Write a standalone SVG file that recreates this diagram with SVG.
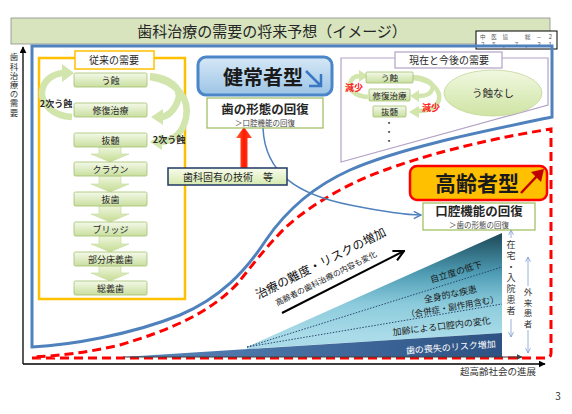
<svg xmlns="http://www.w3.org/2000/svg" width="572" height="414" viewBox="0 0 572 414">
<style>
text{font-family:"Noto Sans CJK JP","Noto Sans",sans-serif;fill:#262626}
.gb{fill:url(#gGreen);stroke:#a3bf6f;stroke-width:0.8}
.t9{font-size:9px;text-anchor:middle}
.t10{font-size:10px;text-anchor:middle}
.b{font-weight:700}
.cur{fill:none;stroke:#d2e5ad;stroke-width:6.5}
.curh{fill:#d2e5ad}
.blk{fill:url(#gArr);stroke:#c4d99a;stroke-width:0.6}
.red{fill:#ff2020;font-weight:700;font-size:9px;text-anchor:middle}
.vt{font-size:9px;fill:#333;writing-mode:vertical-rl}
.wt{font-size:9px;text-anchor:middle;fill:#1a1a1a}
</style>
<defs>
<linearGradient id="gGreen" x1="0" y1="0" x2="0" y2="1"><stop offset="0" stop-color="#f4f9e9"/><stop offset="1" stop-color="#c9df9f"/></linearGradient>
<linearGradient id="gArr" x1="0" y1="0" x2="0" y2="1"><stop offset="0" stop-color="#eef6dc"/><stop offset="1" stop-color="#c5dc93"/></linearGradient>
<linearGradient id="gBtn" x1="0" y1="0" x2="0" y2="1"><stop offset="0" stop-color="#f8fcec"/><stop offset="1" stop-color="#d6e9ae"/></linearGradient>
<linearGradient id="gBlue" x1="0" y1="0" x2="0" y2="1"><stop offset="0" stop-color="#d6e8f6"/><stop offset="1" stop-color="#9cc4e6"/></linearGradient>
<linearGradient id="gEll" x1="0" y1="0" x2="0" y2="1"><stop offset="0" stop-color="#f1f8e1"/><stop offset="1" stop-color="#cfe4a3"/></linearGradient>
<linearGradient id="gRed" x1="0" y1="0" x2="1" y2="0"><stop offset="0" stop-color="#ff6a3a"/><stop offset="0.5" stop-color="#ff1a00"/><stop offset="1" stop-color="#ff5030"/></linearGradient>
<linearGradient id="gTri" gradientUnits="userSpaceOnUse" x1="0" y1="233" x2="0" y2="335"><stop offset="0" stop-color="#1b4757"/><stop offset="0.4" stop-color="#4f9db5"/><stop offset="0.7" stop-color="#8ccbdc"/><stop offset="1" stop-color="#a9dbe8"/></linearGradient>
<linearGradient id="gBand" x1="0" y1="0" x2="1" y2="0"><stop offset="0" stop-color="#5a86ba"/><stop offset="1" stop-color="#2d5283"/></linearGradient>
<marker id="mAx" viewBox="0 0 10 10" refX="9" refY="5" markerWidth="7" markerHeight="7" markerUnits="userSpaceOnUse" orient="auto"><path d="M0,0 L10,5 L0,10 z" fill="#000"/></marker>
<marker id="mGray" viewBox="0 0 10 10" refX="9" refY="5" markerWidth="6" markerHeight="6" markerUnits="userSpaceOnUse" orient="auto"><path d="M0,0 L10,5 L0,10 z" fill="#404040"/></marker>
<marker id="mBlue" viewBox="0 0 10 10" refX="9" refY="5" markerWidth="9" markerHeight="9" markerUnits="userSpaceOnUse" orient="auto"><path d="M1,1 L9,5 L1,9" fill="none" stroke="#4f81bd" stroke-width="1.6"/></marker>
<marker id="mBlk" viewBox="0 0 10 10" refX="9" refY="5" markerWidth="13" markerHeight="13" markerUnits="userSpaceOnUse" orient="auto"><path d="M1,1 L9,5 L1,9" fill="none" stroke="#000" stroke-width="1.6"/></marker>
<marker id="mLb" viewBox="0 0 10 10" refX="9" refY="5" markerWidth="6" markerHeight="6" markerUnits="userSpaceOnUse" orient="auto"><path d="M1,1 L9,5 L1,9" fill="none" stroke="#7f9fcf" stroke-width="1.4"/></marker>
</defs>
<rect width="572" height="414" fill="#fff"/>

<!-- title -->
<g id="title">
<rect x="11" y="18" width="539" height="26" fill="#d7e4bd" stroke="#8c8c8c" stroke-width="0.8"/>
<text x="272" y="37" style="font-size:15px;text-anchor:middle">歯科治療の需要の将来予想（イメージ）</text>
</g>
<g id="docbox">
<rect x="476" y="31" width="81" height="18" fill="#fff" stroke="#000" stroke-width="1"/>
<text x="480" y="38.5" style="font-size:5.5px;fill:#555" textLength="73" lengthAdjust="spacing">中医協　総－２</text>
<text x="480" y="46.5" style="font-size:5.5px;fill:#555" textLength="73" lengthAdjust="spacing">２５．７．３１</text>
</g>

<!-- regions -->
<g id="regions">
<path d="M32,46 L552,46 L552,117 C480,132 400,148 350,170 C310,188 285,212 266,240 C245,272 220,298 180,315 C130,335 70,345 32,347 Z" fill="none" stroke="#4f81bd" stroke-width="3"/>
<path d="M32,358 L546,358 Q551,358 551,353 L551,129 C480,140 420,157 385,170 C350,182 310,205 285,228 C265,248 250,268 238,283 C210,313 170,330 120,345 C90,352 60,356 32,357" fill="none" stroke="#ff0000" stroke-width="3" stroke-dasharray="9 5"/>
</g>

<!-- wedge -->
<g id="wedge">
<path d="M247,347 L502,233 L502,333 L247,349 Z" fill="url(#gTri)"/>
<path d="M123,357 L502,333 L502,357 Z" fill="url(#gBand)"/>
<path d="M247,347 L502,267 M247,347 L502,304" stroke="#1f3864" stroke-width="0.9" stroke-dasharray="1.5 1.5" fill="none"/>
<text class="wt" transform="translate(457,275) rotate(-17)">自立度の低下</text>
<text class="wt" transform="translate(451,297.5) rotate(-12)">全身的な疾患</text>
<text class="wt" style="font-size:8.5px" transform="translate(453,310) rotate(-10)">（合併症・副作用含む）</text>
<text class="wt" transform="translate(442,329.5) rotate(-7)">加齢による口腔内の変化</text>
<text class="wt" style="fill:#fff" transform="translate(451,350.5) rotate(-4.5)">歯の喪失のリスク増加</text>
</g>

<!-- axes -->
<g id="axes">
<path d="M23,364 L23,47" stroke="#000" stroke-width="1.3" marker-end="url(#mAx)"/>
<path d="M23,364 L545,364" stroke="#000" stroke-width="1.3" marker-end="url(#mAx)"/>
<path d="M123,357 L522,357" stroke="#404040" stroke-width="1.2" marker-end="url(#mGray)"/>
<text x="14" y="53" style="font-size:8.5px;fill:#333;writing-mode:vertical-rl;letter-spacing:0.7px">歯科治療の需要</text>
<text x="498" y="375" style="font-size:9.5px;text-anchor:middle;fill:#333">超高齢社会の進展</text>
</g>

<!-- left box: conventional demand -->
<g id="conventional">
<rect x="39" y="58" width="146" height="241" fill="none" stroke="#ffc000" stroke-width="2.5"/>
<rect x="75" y="51" width="79" height="18" fill="#fff" stroke="#ffc000" stroke-width="1.5"/>
<text class="t10" x="114" y="64">従来の需要</text>
</g>
<g id="flow">
<path class="blk" d="M99,147 L121,147 L121,154 L129,154 L110,162 L91,154 L99,154 Z"/>
<path class="blk" d="M99,176 L121,176 L121,184 L129,184 L110,192 L91,184 L99,184 Z"/>
<path class="blk" d="M99,206 L121,206 L121,214 L129,214 L110,222 L91,214 L99,214 Z"/>
<path class="blk" d="M99,236 L121,236 L121,244 L129,244 L110,252 L91,244 L99,244 Z"/>
<path class="blk" d="M99,266 L121,266 L121,273 L129,273 L110,281 L91,273 L99,273 Z"/>
<path class="cur" d="M72,117 C52,116 41,103 42,92 C43,80 53,74 63,73"/>
<polygon class="curh" points="74,73 62,64 62,82"/>
<path class="cur" d="M150,76 C170,78 182,88 178,100 C175,110 168,116 162,117"/>
<polygon class="curh" points="151,117 163,109 163,125"/>
<path class="cur" d="M150,77 C178,81 190,100 186,118 C183,132 175,140 162,142"/>
<polygon class="curh" points="150,142 162,134 162,150"/>
</g>
<g id="n-ushoku"><rect class="gb" x="74" y="73" width="73" height="14" rx="1.5"/><text class="t9" x="110.5" y="83.5">う蝕</text></g>
<g id="n-shufuku"><rect class="gb" x="74" y="103" width="73" height="14" rx="1.5"/><text class="t9" x="110.5" y="113.5">修復治療</text></g>
<g id="n-bacchu"><rect class="gb" x="74" y="133" width="73" height="14" rx="1.5"/><text class="t9" x="110.5" y="143.5">抜髄</text></g>
<g id="n-crown"><rect class="gb" x="74" y="162" width="73" height="14" rx="1.5"/><text class="t9" x="110.5" y="172.5">クラウン</text></g>
<g id="n-basshi"><rect class="gb" x="74" y="192" width="73" height="14" rx="1.5"/><text class="t9" x="110.5" y="202.5">抜歯</text></g>
<g id="n-bridge"><rect class="gb" x="74" y="222" width="73" height="14" rx="1.5"/><text class="t9" x="110.5" y="232.5">ブリッジ</text></g>
<g id="n-bubun"><rect class="gb" x="74" y="252" width="73" height="14" rx="1.5"/><text class="t9" x="110.5" y="262.5">部分床義歯</text></g>
<g id="n-sougishi"><rect class="gb" x="74" y="281" width="73" height="14" rx="1.5"/><text class="t9" x="110.5" y="291.5">総義歯</text></g>
<text class="t9 b" x="56" y="107">2次う蝕</text>
<text class="t9 b" x="169" y="143">2次う蝕</text>

<!-- connectors -->
<g id="connectors">
<path d="M263,128 C265,175 300,195 350,205 C385,212 405,215 421,215" fill="none" stroke="#4f81bd" stroke-width="1.5" marker-end="url(#mBlue)"/>
<path d="M240.5,168 L240.5,138 L236,138 L244,127 L252,138 L247.5,138 L247.5,168 Z" fill="url(#gRed)"/>
<path d="M282,313 L404,251" stroke="#000" stroke-width="2" marker-end="url(#mBlk)"/>
<path d="M511,238 L511,230" stroke="#7f9fcf" stroke-width="0.8" marker-end="url(#mLb)"/>
<path d="M511,319 L511,337" stroke="#7f9fcf" stroke-width="0.8" marker-end="url(#mLb)"/>
<path d="M528,286 L528,257" stroke="#7f9fcf" stroke-width="0.8" marker-end="url(#mLb)"/>
<path d="M528,330 L528,353" stroke="#7f9fcf" stroke-width="0.8" marker-end="url(#mLb)"/>
</g>

<!-- healthy type -->
<g id="healthy">
<rect x="198" y="57" width="134" height="38" rx="8" fill="url(#gBlue)" stroke="#4a86c8" stroke-width="3"/>
<text x="263" y="85" style="font-size:20px;font-weight:700;text-anchor:middle;fill:#1a1a1a">健常者型</text>
<path d="M306,71 L321,86 M321,74 L321,86 L309,86" fill="none" stroke="#3a78c3" stroke-width="2.5"/>
</g>
<g id="form-recovery">
<rect x="207" y="98" width="116" height="30" fill="#fff" stroke="#9bbb59" stroke-width="1.2"/>
<text x="265" y="114" style="font-size:12.5px;font-weight:700;text-anchor:middle">歯の形態の回復</text>
<text x="265" y="125.5" style="font-size:7.5px;text-anchor:middle;fill:#444">＞口腔機能の回復</text>
</g>
<g id="tech">
<rect x="168" y="168" width="119" height="17" fill="url(#gBtn)" stroke="#1f3864" stroke-width="1.5"/>
<text x="228" y="180.5" style="font-size:10px;text-anchor:middle">歯科固有の技術　等</text>
</g>

<!-- present and future -->
<g id="present">
<polygon points="341,58 548,58 548,105 341,162" fill="none" stroke="#b3a2c7" stroke-width="1.2"/>
<rect x="395" y="52" width="107" height="16" fill="#fff" stroke="#b3a2c7" stroke-width="1.2"/>
<text class="t10" x="449" y="64">現在と今後の需要</text>
<path class="cur" style="stroke-width:4.5" d="M368,97 C355,96 349,90 350,84 C351,78 355,76 360,76"/>
<polygon class="curh" points="368,76 359,70 359,82"/>
<path class="cur" style="stroke-width:4.5" d="M413,77 C428,78 435,84 432,90 C430,95 425,96 419,96"/>
<polygon class="curh" points="410,96 419,90 419,102"/>
<path class="cur" style="stroke-width:4.5" d="M413,78 C437,81 443,95 437,104 C433,109 427,111 419,111"/>
<polygon class="curh" points="409,112 419,106 419,118"/>
<g id="p-ushoku"><rect class="gb" x="366" y="72" width="47" height="11" rx="1"/><text x="389.5" y="81" style="font-size:8.5px;text-anchor:middle">う蝕</text></g>
<g id="p-shufuku"><rect class="gb" x="369" y="89" width="41" height="12" rx="1"/><text x="389.5" y="98.5" style="font-size:8.5px;text-anchor:middle">修復治療</text></g>
<g id="p-bacchu"><rect class="gb" x="373" y="106" width="33" height="11" rx="1"/><text x="389.5" y="115" style="font-size:8.5px;text-anchor:middle">抜髄</text></g>
<text class="red" x="354" y="91">減少</text>
<text class="red" x="431" y="111">減少</text>
<text style="font-size:7px;text-anchor:middle;font-weight:700"><tspan x="389" y="124.5">・</tspan><tspan x="389" y="133.5">・</tspan><tspan x="389" y="142.5">・</tspan></text>
</g>
<g id="no-caries">
<ellipse cx="493" cy="93" rx="49" ry="23" fill="url(#gEll)" stroke="#c3d69b" stroke-width="0.8"/>
<text x="493" y="97" style="font-size:10.5px;text-anchor:middle">う蝕なし</text>
</g>

<!-- elderly type -->
<g id="elderly">
<rect x="410" y="166" width="137" height="34" rx="7" fill="#ffc000" stroke="#ff0000" stroke-width="2.5"/>
<text x="477" y="191" style="font-size:21px;font-weight:700;text-anchor:middle;fill:#1a1a1a">高齢者型</text>
<path d="M521,193 L537,176" stroke="#c00000" stroke-width="2.5"/>
<polygon points="544,169 531,172 541,182" fill="#c00000"/>
</g>
<g id="oral-recovery">
<rect x="423" y="203" width="112" height="27" fill="#fff" stroke="#9bbb59" stroke-width="1.2"/>
<text x="479" y="216" style="font-size:12.5px;font-weight:700;text-anchor:middle">口腔機能の回復</text>
<text x="479" y="227.8" style="font-size:7.5px;text-anchor:middle;fill:#444">＞歯の形態の回復</text>
</g>

<!-- difficulty label -->
<g id="difficulty" transform="translate(321,264) rotate(-26.5)">
<text x="0" y="3.5" style="font-size:12px;text-anchor:middle;fill:#111">治療の難度・リスクの増加</text>
<text x="-2" y="18" style="font-size:8px;text-anchor:middle;fill:#222">高齢者の歯科治療の内容も変化</text>
</g>

<!-- patient labels -->
<g id="patients">
<text class="vt" x="511" y="240" style="letter-spacing:2px">在宅・入院患者</text>
<text class="vt" x="528" y="288" style="font-size:8.5px;letter-spacing:2px">外来患者</text>
</g>

<text x="558" y="400" style="font-size:10px;text-anchor:middle;fill:#333">3</text>
</svg>
